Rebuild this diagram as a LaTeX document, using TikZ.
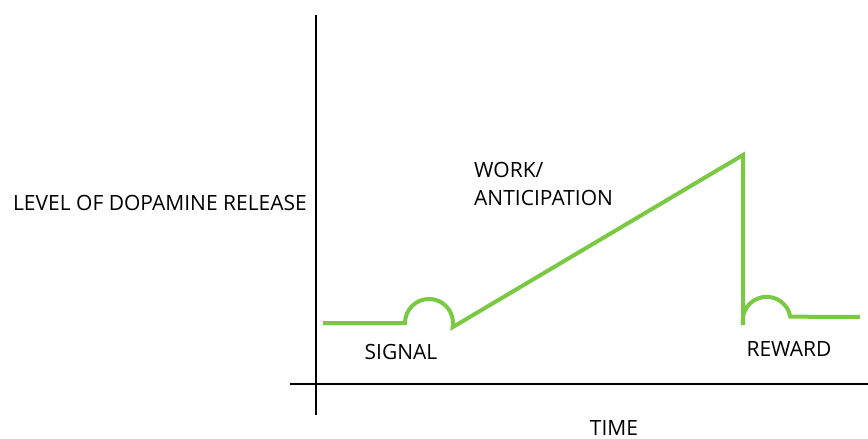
\documentclass[tikz,border=0pt]{standalone}
\usepackage{fontspec}
\setmainfont{Open Sans}
\usepackage{tikz}
\definecolor{dopagreen}{RGB}{122,201,67}
\tikzset{axisline/.style={black, line width=2.4pt},
  curveline/.style={dopagreen, line width=4pt},
  lbl/.style={font=\fontsize{21}{28}\selectfont, inner sep=0pt}}

\begin{document}
\begin{tikzpicture}[x=1pt, y=-1pt]
      \useasboundingbox (0,0) rectangle (868,439);

      \coordinate (ybot) at (316,415);
      \coordinate (ytop) at (316,15);
      \coordinate (xleft) at (290,384);
      \coordinate (xright) at (868,384);
      \draw [axisline] (ybot) -- (ytop);
      \draw [axisline] (xleft) -- (xright);

      \draw [curveline] (323,323) -- (405,323) arc(180:370:24) -- (743,155) -- (743,325) arc(170:350:24) -- (860,317);

      \node [lbl] (level) at (160,203) {LEVEL OF DOPAMINE RELEASE};
      \node [lbl] (time) at (614,428) {TIME};
      \node [lbl] (signal) at (401,352) {SIGNAL};
      \node [lbl] (reward) at (789,349) {REWARD};
      \node [lbl, anchor=west, align=left] (work) at (474,184) {WORK/\\ANTICIPATION};
    \end{tikzpicture}
\end{document}
